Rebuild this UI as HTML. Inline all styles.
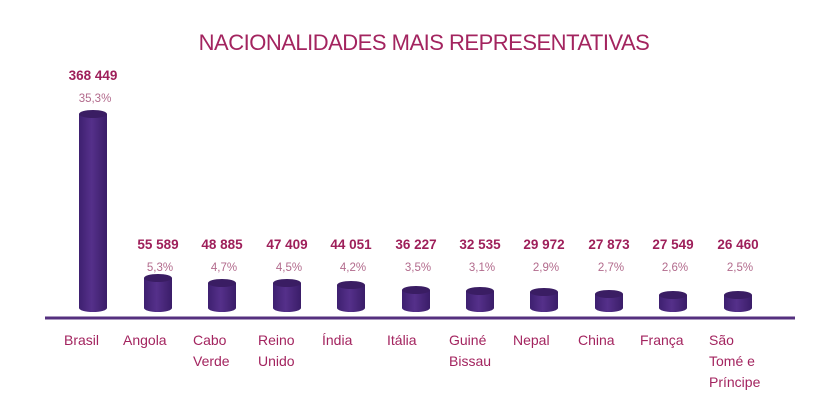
<!DOCTYPE html>
<html><head><style>
body{margin:0;background:#fff;}
svg text{font-family:"Liberation Sans",sans-serif;}
.v{font-size:13.5px;font-weight:bold;fill:#9e1f5a;text-anchor:middle;}
.p{font-size:11.5px;fill:#b26a8c;text-anchor:middle;}
.l{font-size:14px;fill:#a3245f;}
</style></head><body>
<svg width="813" height="409" viewBox="0 0 813 409">
<defs><linearGradient id="g" x1="0" x2="1"><stop offset="0" stop-color="#3e2070"/><stop offset="0.45" stop-color="#55308a"/><stop offset="1" stop-color="#3a1d68"/></linearGradient></defs>
<text x="424" y="50" text-anchor="middle" font-size="22" fill="#a3245f" style="letter-spacing:-0.5px">NACIONALIDADES MAIS REPRESENTATIVAS</text>
<line x1="45" y1="318" x2="795" y2="318" stroke="#55307f" stroke-width="3"/>
<g fill="url(#g)">
<path d="M79 114 L79 308 A14 4 0 0 0 107 308 L107 114 Z"/>
<path d="M144 278 L144 308 A14 4 0 0 0 172 308 L172 278 Z"/>
<path d="M208 283 L208 308 A14 4 0 0 0 236 308 L236 283 Z"/>
<path d="M273 283 L273 308 A14 4 0 0 0 301 308 L301 283 Z"/>
<path d="M337 285 L337 308 A14 4 0 0 0 365 308 L365 285 Z"/>
<path d="M402 290 L402 308 A14 4 0 0 0 430 308 L430 290 Z"/>
<path d="M466 291 L466 308 A14 4 0 0 0 494 308 L494 291 Z"/>
<path d="M530 292 L530 308 A14 4 0 0 0 558 308 L558 292 Z"/>
<path d="M595 294 L595 308 A14 4 0 0 0 623 308 L623 294 Z"/>
<path d="M659 295 L659 308 A14 4 0 0 0 687 308 L687 295 Z"/>
<path d="M724 295 L724 308 A14 4 0 0 0 752 308 L752 295 Z"/>
</g>
<g fill="#3a1d63">
<ellipse cx="93" cy="114" rx="14" ry="4"/>
<ellipse cx="158" cy="278" rx="14" ry="4"/>
<ellipse cx="222" cy="283" rx="14" ry="4"/>
<ellipse cx="287" cy="283" rx="14" ry="4"/>
<ellipse cx="351" cy="285" rx="14" ry="4"/>
<ellipse cx="416" cy="290" rx="14" ry="4"/>
<ellipse cx="480" cy="291" rx="14" ry="4"/>
<ellipse cx="544" cy="292" rx="14" ry="4"/>
<ellipse cx="609" cy="294" rx="14" ry="4"/>
<ellipse cx="673" cy="295" rx="14" ry="4"/>
<ellipse cx="738" cy="295" rx="14" ry="4"/>
</g>
<text class="v" x="93" y="80">368 449</text><text class="p" x="95" y="102">35,3%</text>
<text class="v" x="158" y="249">55 589</text><text class="p" x="160" y="271">5,3%</text>
<text class="v" x="222" y="249">48 885</text><text class="p" x="224" y="271">4,7%</text>
<text class="v" x="287" y="249">47 409</text><text class="p" x="289" y="271">4,5%</text>
<text class="v" x="351" y="249">44 051</text><text class="p" x="353" y="271">4,2%</text>
<text class="v" x="416" y="249">36 227</text><text class="p" x="418" y="271">3,5%</text>
<text class="v" x="480" y="249">32 535</text><text class="p" x="482" y="271">3,1%</text>
<text class="v" x="544" y="249">29 972</text><text class="p" x="546" y="271">2,9%</text>
<text class="v" x="609" y="249">27 873</text><text class="p" x="611" y="271">2,7%</text>
<text class="v" x="673" y="249">27 549</text><text class="p" x="675" y="271">2,6%</text>
<text class="v" x="738" y="249">26 460</text><text class="p" x="740" y="271">2,5%</text>
<text class="l" x="64" y="345">Brasil</text>
<text class="l" x="123" y="345">Angola</text>
<text class="l" x="193" y="345">Cabo</text><text class="l" x="193" y="366">Verde</text>
<text class="l" x="258" y="345">Reino</text><text class="l" x="258" y="366">Unido</text>
<text class="l" x="322" y="345">Índia</text>
<text class="l" x="387" y="345">Itália</text>
<text class="l" x="449" y="345">Guiné</text><text class="l" x="449" y="366">Bissau</text>
<text class="l" x="513" y="345">Nepal</text>
<text class="l" x="578" y="345">China</text>
<text class="l" x="640" y="345">França</text>
<text class="l" x="709" y="345">São</text><text class="l" x="709" y="366">Tomé e</text><text class="l" x="709" y="387">Príncipe</text>
</svg>
</body></html>
